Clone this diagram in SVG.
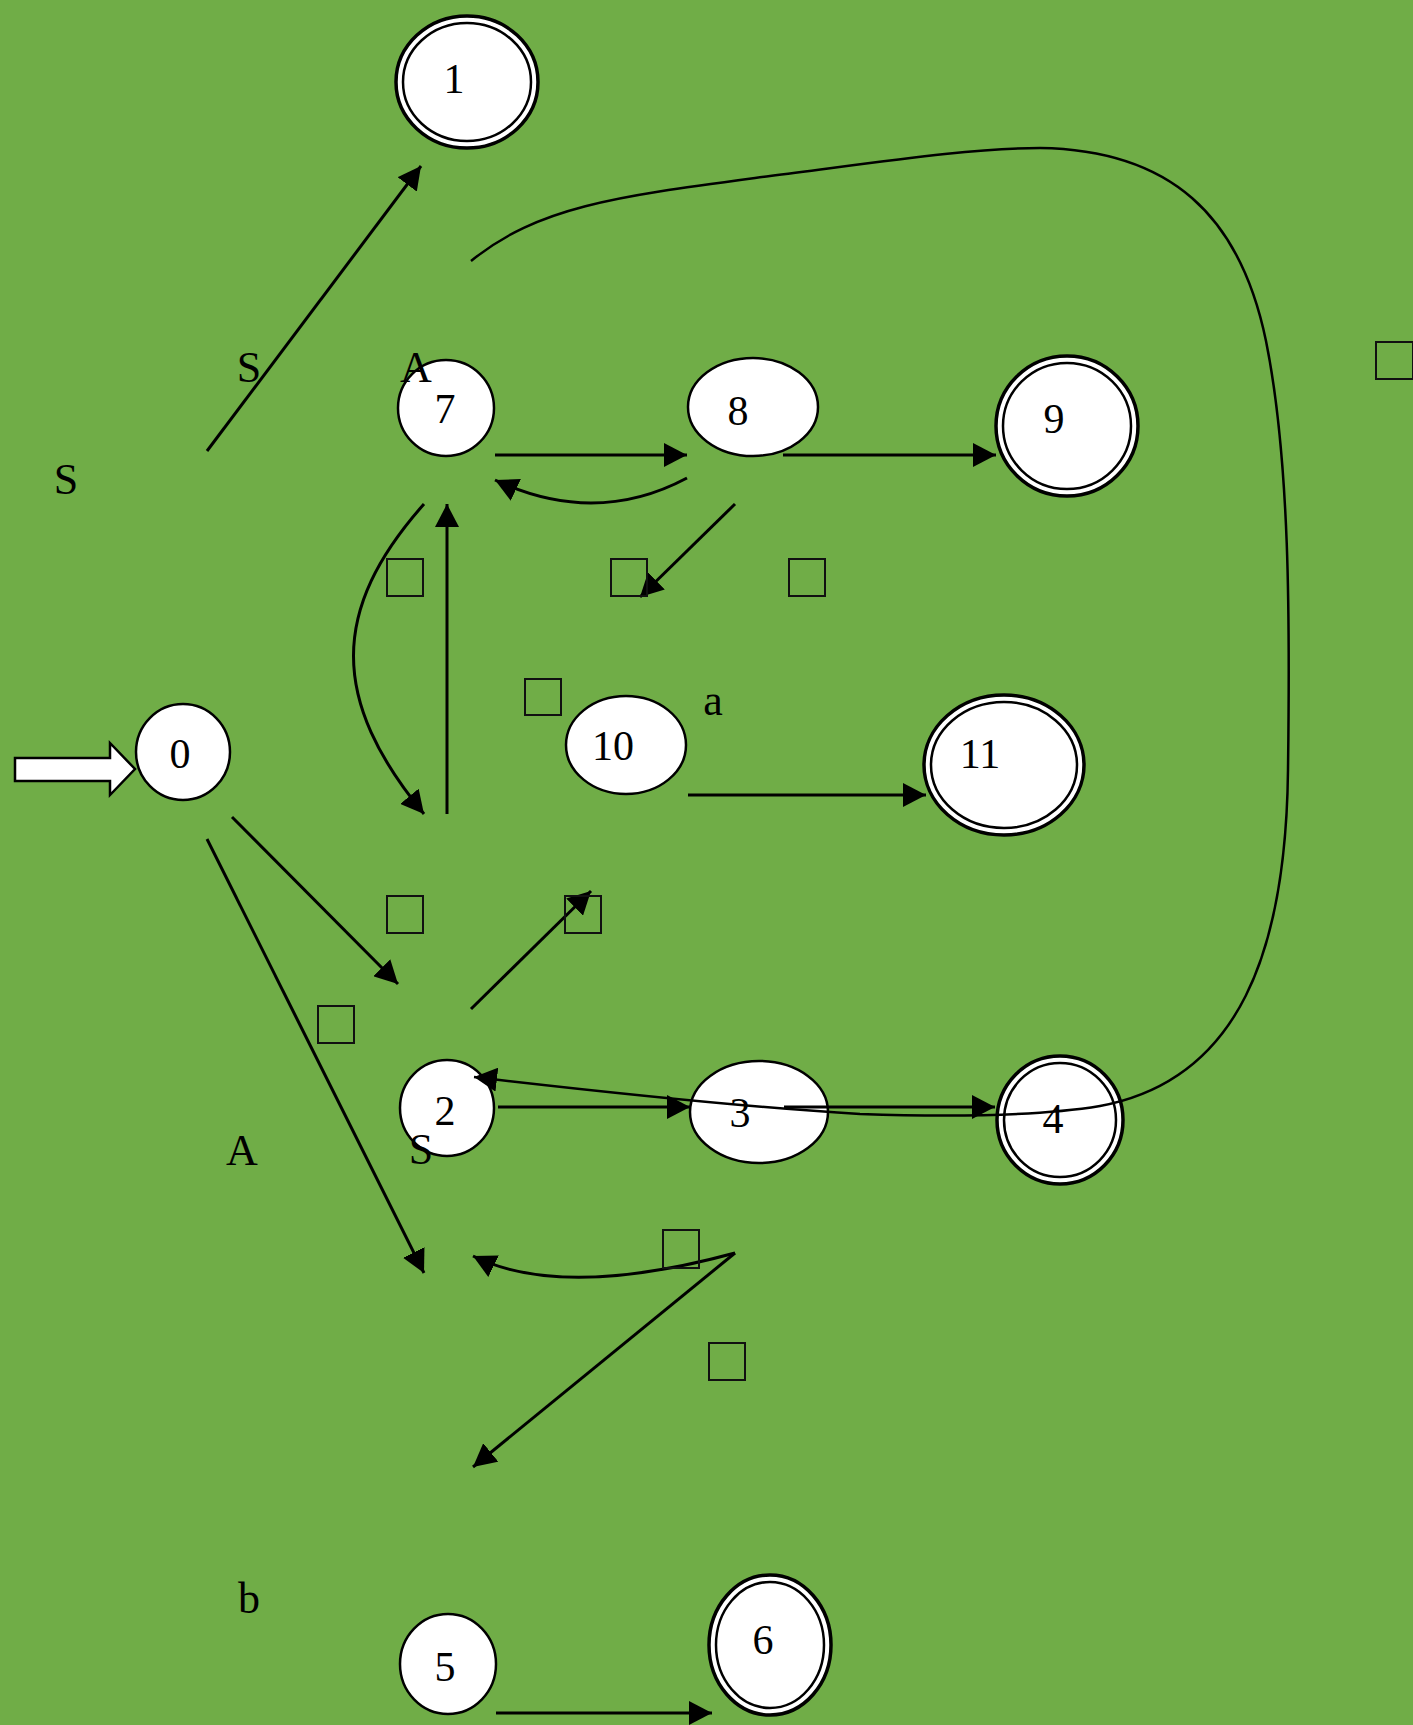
<svg xmlns="http://www.w3.org/2000/svg" width="1413" height="1725" viewBox="0 0 1413 1725">
<style>
.node{fill:#fff;stroke:#000;stroke-width:2.5}
.outer{fill:#fff;stroke:#000;stroke-width:3.5}
.inner{fill:#fff;stroke:#000;stroke-width:2.5}
.num{font-family:"Liberation Serif",serif;font-size:42px;text-anchor:middle;fill:#000}
.lbl{font-family:"Liberation Serif",serif;font-size:44px;text-anchor:middle;fill:#000}
.edge{fill:none;stroke:#000;stroke-width:3;marker-end:url(#ah)}
.curve{fill:none;stroke:#000;stroke-width:2.5}
.tofu{fill:none;stroke:#111;stroke-width:2}
</style>
<defs>
<marker id="ah" markerUnits="userSpaceOnUse" markerWidth="24" markerHeight="24" refX="23" refY="12" orient="auto">
<path d="M0,0 L23,12 L0,24 Z" fill="#000"/>
</marker>
</defs>
<rect x="0" y="0" width="1413" height="1725" fill="#70AD47"/>
<g id="connectors">
<line class="edge" x1="207" y1="451" x2="421" y2="166"/>
<line class="edge" x1="495" y1="455" x2="687" y2="455"/>
<path class="edge" d="M687,478 Q595,527 495,480"/>
<line class="edge" x1="783" y1="455" x2="996" y2="455"/>
<path class="edge" d="M424,504 C330,610 330,700 424,814"/>
<line class="edge" x1="447" y1="814" x2="447" y2="504"/>
<line class="edge" x1="735" y1="504" x2="640" y2="597"/>
<line class="edge" x1="688" y1="795" x2="926" y2="795"/>
<line class="edge" x1="232" y1="817" x2="398" y2="984"/>
<line class="edge" x1="207" y1="839" x2="424" y2="1273"/>
<line class="edge" x1="471" y1="1009" x2="591" y2="891"/>
<path class="edge" d="M735,1253 Q562,1300 473,1256"/>
<line class="edge" x1="735" y1="1253" x2="473" y2="1467"/>
<line class="edge" x1="496" y1="1713" x2="712" y2="1713"/>
</g>
<g id="node-1"><ellipse class="outer" cx="467" cy="82" rx="71" ry="66"/><ellipse class="inner" cx="467" cy="82" rx="64" ry="59"/><text class="num" x="454" y="93">1</text></g>
<g id="node-0"><ellipse class="node" cx="183" cy="752" rx="47" ry="48"/><text class="num" x="180" y="768">0</text></g>
<g id="start-arrow"><polygon points="15,758 110,758 110,743 135,769 110,795 110,781 15,781" fill="#fff" stroke="#000" stroke-width="2.5"/></g>
<g id="node-7"><ellipse class="node" cx="446" cy="408" rx="48" ry="48"/><text class="num" x="445" y="423">7</text></g>
<g id="node-8"><ellipse class="node" cx="753" cy="407" rx="65" ry="49"/><text class="num" x="738" y="425">8</text></g>
<g id="node-9"><ellipse class="outer" cx="1067" cy="426" rx="71" ry="70"/><ellipse class="inner" cx="1067" cy="426" rx="64" ry="63"/><text class="num" x="1054" y="433">9</text></g>
<g id="node-10"><ellipse class="node" cx="626" cy="745" rx="60" ry="49"/><text class="num" x="613" y="760">10</text></g>
<g id="node-11"><ellipse class="outer" cx="1004" cy="765" rx="80" ry="70"/><ellipse class="inner" cx="1004" cy="765" rx="73" ry="63"/><text class="num" x="980" y="768">11</text></g>
<g id="node-2"><ellipse class="node" cx="447" cy="1108" rx="47" ry="48"/><text class="num" x="445" y="1125">2</text></g>
<g id="node-3"><ellipse class="node" cx="759" cy="1112" rx="69" ry="51"/><text class="num" x="740" y="1127">3</text></g>
<g id="node-4"><ellipse class="outer" cx="1060" cy="1120" rx="63" ry="64"/><ellipse class="inner" cx="1060" cy="1120" rx="56" ry="57"/><text class="num" x="1053" y="1133">4</text></g>
<g id="node-5"><ellipse class="node" cx="448" cy="1664" rx="48" ry="50"/><text class="num" x="445" y="1681">5</text></g>
<g id="node-6"><ellipse class="outer" cx="770" cy="1645" rx="61" ry="70"/><ellipse class="inner" cx="770" cy="1645" rx="54" ry="63"/><text class="num" x="763" y="1654">6</text></g>
<g id="connectors-over">
<line x1="498" y1="1107" x2="690" y2="1107" class="edge"/>
<line x1="784" y1="1107" x2="995" y2="1107" class="edge"/>
<path class="curve" marker-end="url(#ah)" d="M471,261 C540,205 620,196 770,176 C880,162 970,148 1040,148 C1170,150 1240,215 1266,341 C1290,460 1290,620 1288,770 C1286,950 1240,1080 1100,1106 C1040,1116 950,1117 860,1114 C760,1108 620,1094 474,1077"/>
</g>
<g id="labels">
<text class="lbl" x="249" y="382">S</text>
<text class="lbl" x="416" y="382">A</text>
<text class="lbl" x="66" y="494">S</text>
<text class="lbl" x="713" y="715">a</text>
<text class="lbl" x="242" y="1165">A</text>
<text class="lbl" x="421" y="1164">S</text>
<text class="lbl" x="249" y="1613">b</text>
</g>
<g id="tofu">
<rect class="tofu" x="1376" y="342" width="37" height="37"/>
<rect class="tofu" x="387" y="559" width="36" height="37"/>
<rect class="tofu" x="611" y="559" width="36" height="37"/>
<rect class="tofu" x="789" y="559" width="36" height="37"/>
<rect class="tofu" x="525" y="679" width="36" height="36"/>
<rect class="tofu" x="387" y="896" width="36" height="37"/>
<rect class="tofu" x="565" y="896" width="36" height="37"/>
<rect class="tofu" x="318" y="1006" width="36" height="37"/>
<rect class="tofu" x="663" y="1230" width="36" height="38"/>
<rect class="tofu" x="709" y="1343" width="36" height="37"/>
</g>
</svg>
